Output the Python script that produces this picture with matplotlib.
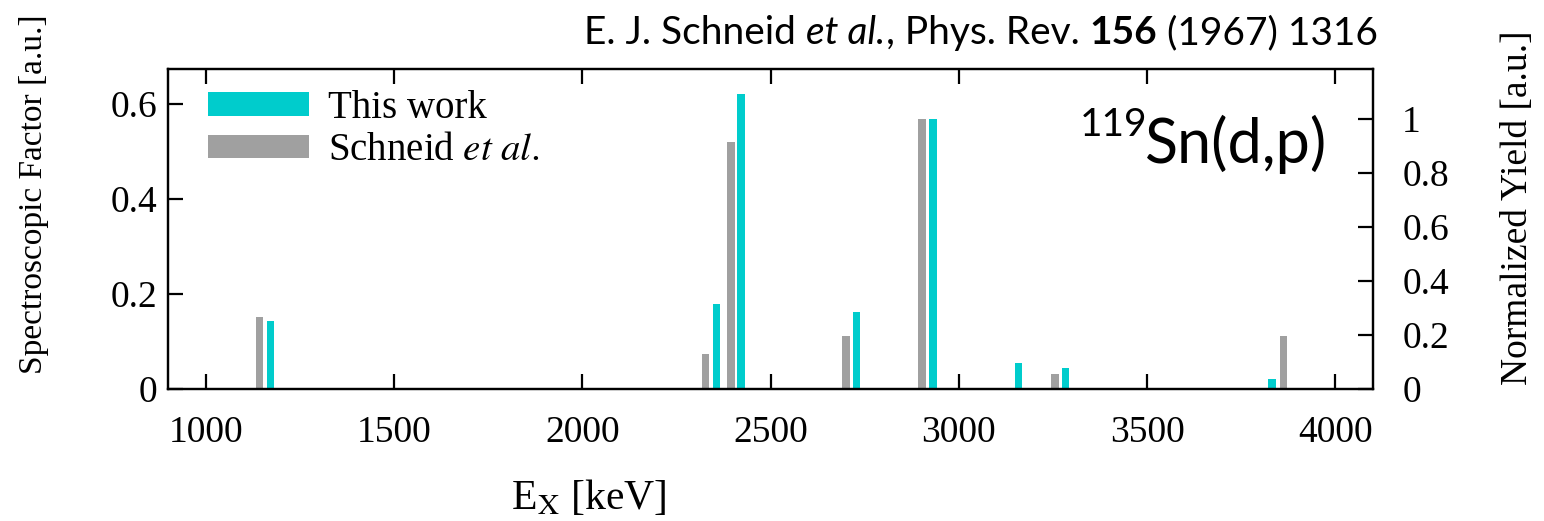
import matplotlib
matplotlib.use("Agg")
import matplotlib.pyplot as plt
from matplotlib.patches import Patch
import matplotlib.transforms as mtransforms

# ---- data ----
this_work_E = [1172, 2356, 2422, 2728, 2931, 3158, 3283, 3832]
this_work_S = [0.143, 0.179, 0.621, 0.163, 0.569, 0.054, 0.045, 0.021]
schneid_E = [1143, 2328, 2395, 2701, 2903, 3256, 3862]
schneid_S = [0.151, 0.074, 0.520, 0.112, 0.569, 0.032, 0.112]

x_ticks = [1000, 1500, 2000, 2500, 3000, 3500, 4000]
left_ticks = [0, 0.2, 0.4, 0.6]
left_labels = ["0", "0.2", "0.4", "0.6"]
right_ticks = [0, 0.2, 0.4, 0.6, 0.8, 1.0]
right_labels = ["0", "0.2", "0.4", "0.6", "0.8", "1"]

CYAN = "#00CCCC"
GRAY = "#A0A0A0"
SERIF = "Liberation Serif"
SANS = "Lato"
FS = 27

plt.rcParams["font.family"] = SERIF
plt.rcParams["mathtext.fontset"] = "stix"

fig = plt.figure(figsize=(15.44, 5.21), dpi=100)
ax = fig.add_axes([168 / 1544, 132 / 521, 1205 / 1544, 320 / 521])

ax.bar(schneid_E, schneid_S, width=20, color=GRAY, edgecolor="none", zorder=2)
ax.bar(this_work_E, this_work_S, width=20, color=CYAN, edgecolor="none", zorder=2)

ax.set_xlim(900, 4100)
ax.set_ylim(0, 0.674)
ax.set_xticks(x_ticks)
ax.set_xticklabels([str(t) for t in x_ticks])
ax.set_yticks(left_ticks)
ax.set_yticklabels(left_labels)

for s in ax.spines.values():
    s.set_linewidth(1.6)

ax.tick_params(axis="x", direction="in", top=True, bottom=True, length=11,
               width=1.6, labelsize=FS, pad=19)
ax.tick_params(axis="y", direction="in", left=True, right=False, length=11,
               width=1.6, labelsize=FS, pad=8)

ax2 = ax.twinx()
ax2.set_ylim(0, 1.185)
ax2.set_yticks(right_ticks)
ax2.set_yticklabels(right_labels)
ax2.tick_params(axis="y", direction="in", right=True, length=11, width=1.6,
                labelsize=FS, pad=21)
for s in ax2.spines.values():
    s.set_linewidth(1.6)

ax.set_xlabel(r"E$_\mathrm{X}$ [keV]", fontsize=30, labelpad=20, x=0.349)
fig.text(34 / 1544, 1 - 194 / 521, "Spectroscopic Factor [a.u.]", rotation=90,
         fontsize=24, ha="center", va="center", family=SERIF)
fig.text(1518 / 1544, 1 - 208 / 521, "Normalized Yield [a.u.]", rotation=90,
         fontsize=27, ha="center", va="center", family=SERIF)

handles = [Patch(facecolor=CYAN, edgecolor="none"),
           Patch(facecolor=GRAY, edgecolor="none")]
leg = ax.legend(handles, ["This work", "Schneid $\\mathit{et\\ al.}$"],
                loc="upper left", frameon=False, fontsize=28,
                handlelength=2.6, handleheight=0.54, handletextpad=0.5,
                labelspacing=0.14, borderaxespad=0.0, borderpad=0.0,
                bbox_to_anchor=(0.033, 0.935))

# reaction label
sn = ax.text(0.811, 0.707, "Sn(d,p)", transform=ax.transAxes, ha="left",
             va="baseline", fontsize=44, family=SANS)
off = mtransforms.offset_copy(ax.transAxes, fig=fig, x=1.5, y=19.0,
                              units="points")
ax.text(0.811, 0.707, "119", transform=off, ha="right", va="baseline",
        fontsize=28, family=SANS)

# citation line, built piece by piece
pieces = [("E. J. Schneid ", "normal", "normal"),
          ("et al.", "italic", "normal"),
          (", Phys. Rev. ", "normal", "normal"),
          ("156", "normal", "bold"),
          (" (1967) 1316", "normal", "normal")]
fig.canvas.draw()
r = fig.canvas.get_renderer()
tsize = 28
widths = []
for txt, st, wt in pieces:
    t = fig.text(0, 0, txt, fontsize=tsize, family=SANS, style=st,
                 weight=wt)
    widths.append(t.get_window_extent(r).width)
    t.remove()
total = sum(widths)
x_right = 1378
x0 = x_right - total
for (txt, st, wt), w in zip(pieces, widths):
    fig.text(x0 / 1544, 1 - 44 / 521, txt, fontsize=tsize, family=SANS,
             style=st, weight=wt, ha="left", va="baseline")
    x0 += w

fig.savefig("out.png", dpi=100)
